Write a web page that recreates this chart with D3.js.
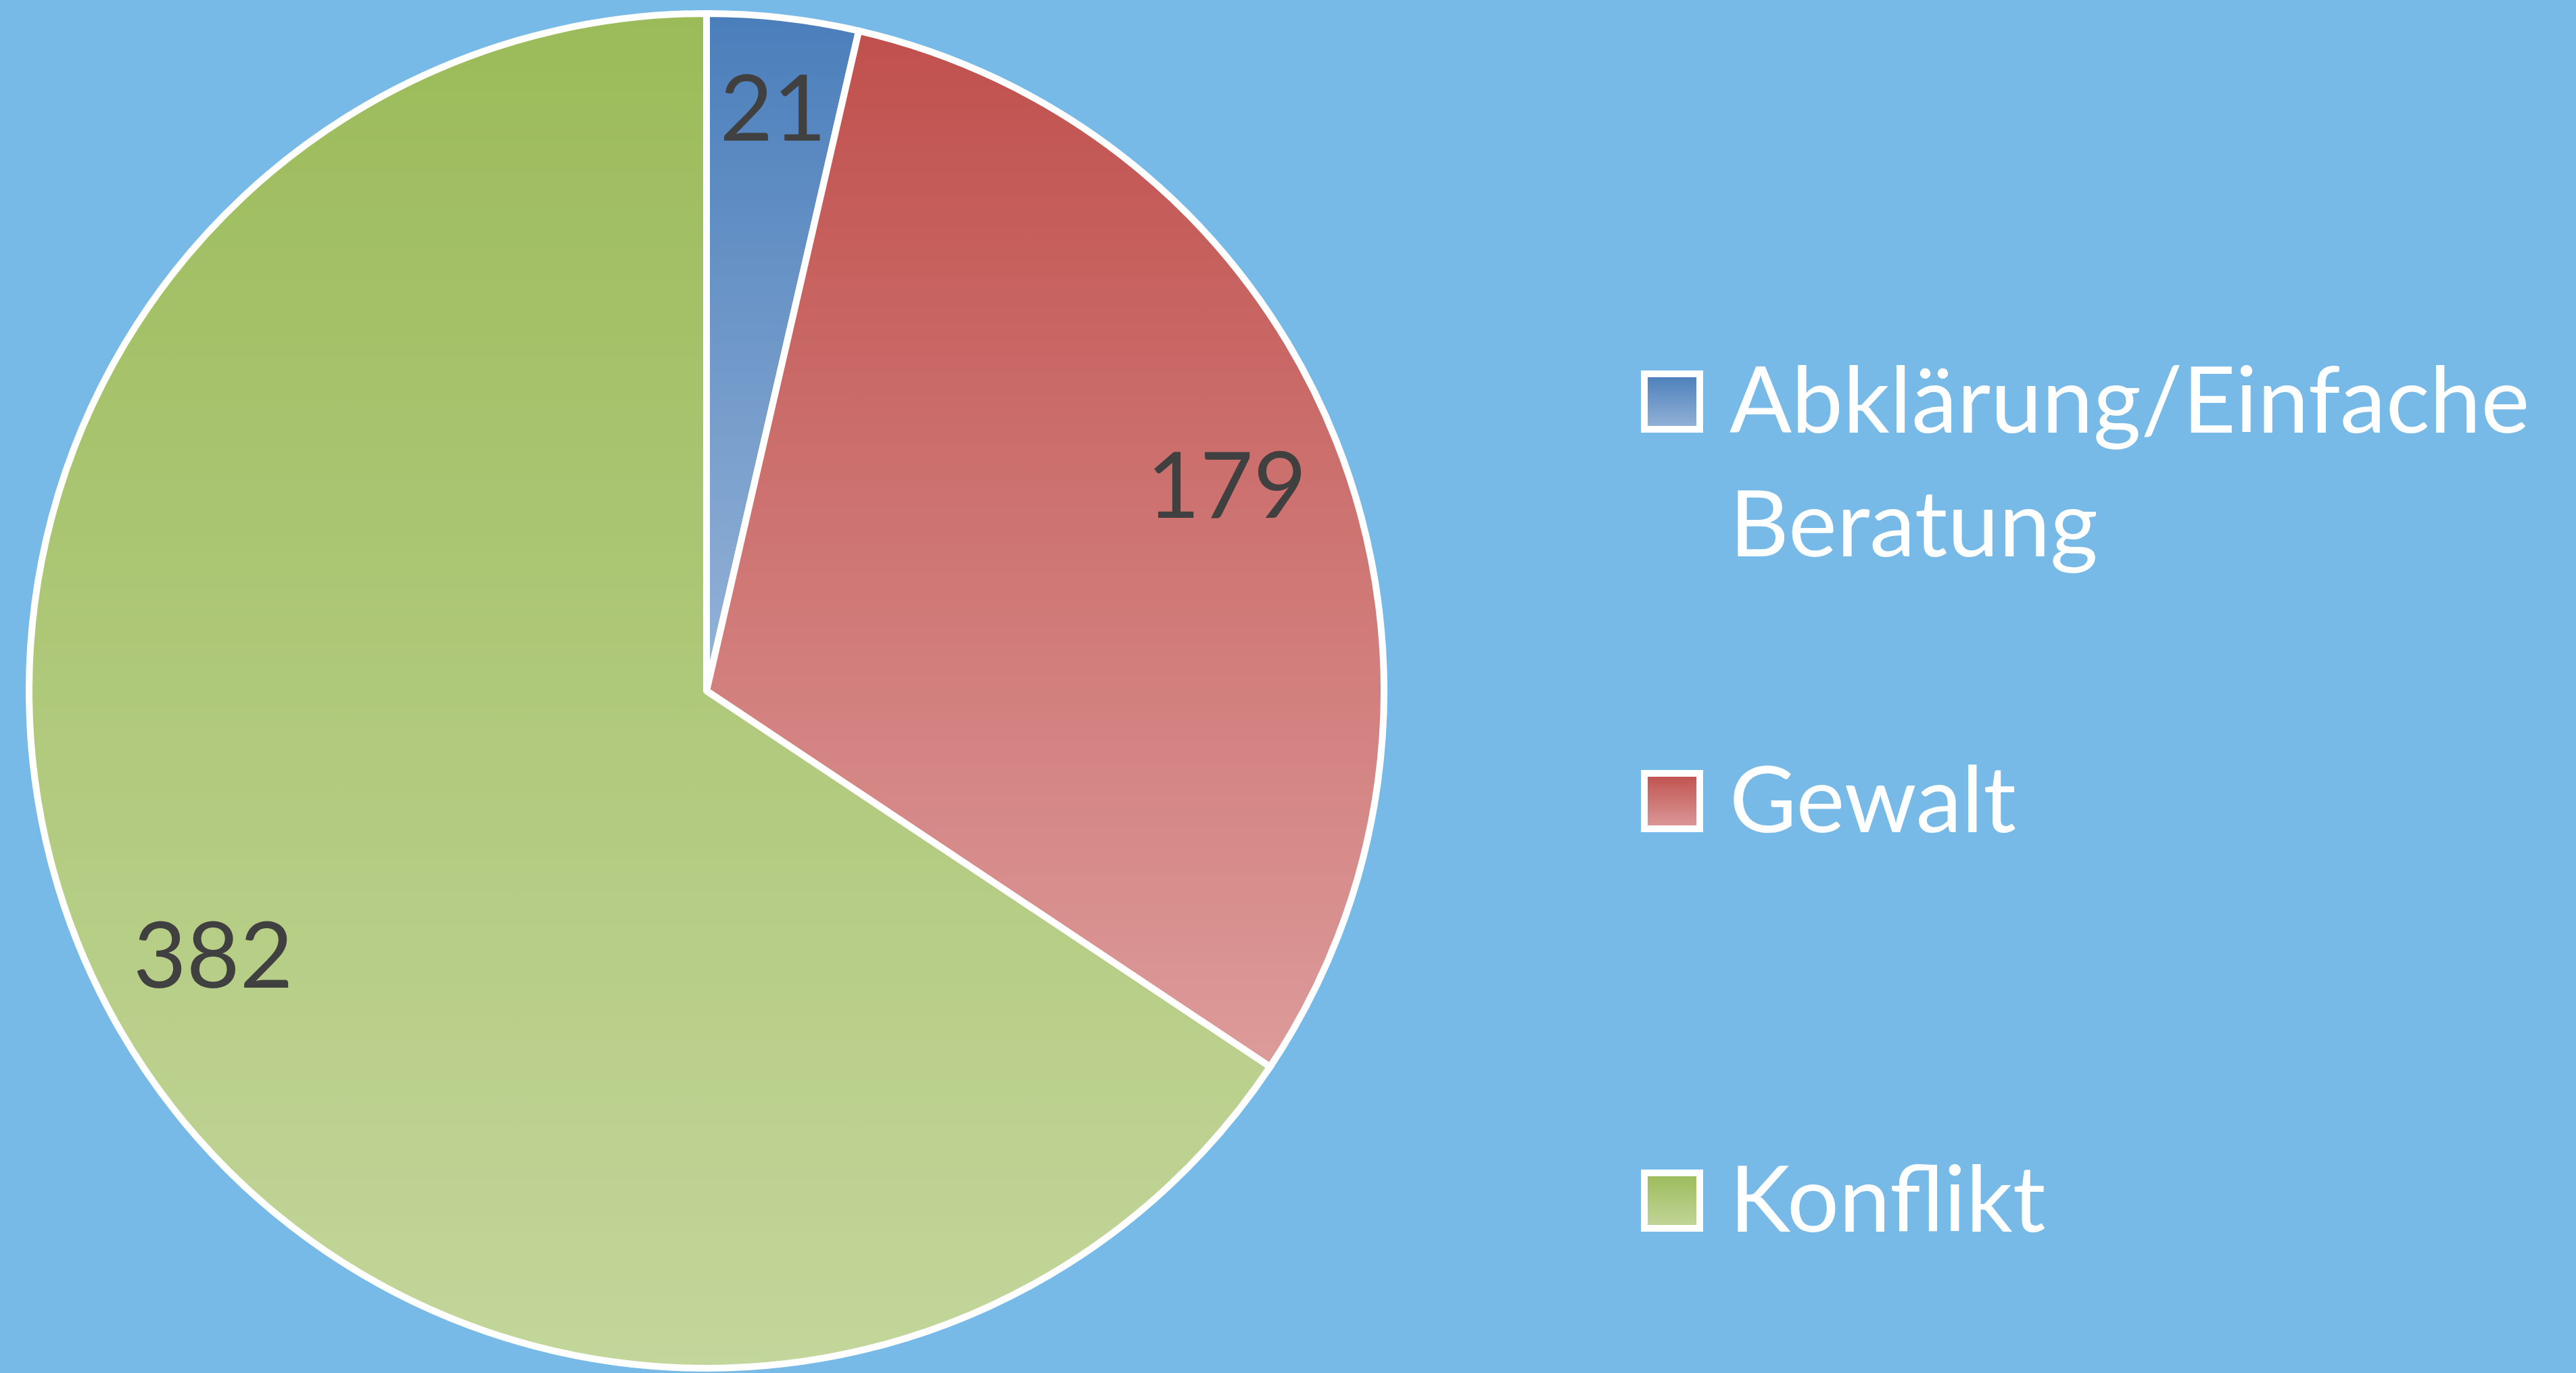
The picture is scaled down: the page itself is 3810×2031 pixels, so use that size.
<!DOCTYPE html>
<html>
<head>
<meta charset="utf-8">
<script src="https://cdn.jsdelivr.net/npm/d3@7"></script>
<style>
  html, body { margin: 0; padding: 0; background: #77bae8; overflow: hidden; }
</style>
</head>
<body>
<div id="chart"></div>
<script>
// Data
const categories = ["Abklärung/Einfache Beratung", "Gewalt", "Konflikt"];
const values = [21, 179, 382];
// gradient stops per slice (top colour, bottom colour)
const topColors = ["#4a7ebb", "#c0504d", "#9bbb59"];
const bottomColors = ["#95b3d7", "#dc9b9a", "#c3d69b"];

const width = 3810, height = 2031;
const cx = 1045, cy = 1022, radius = 1002;

const svg = d3.select("#chart")
    .append("svg")
    .attr("width", width)
    .attr("height", height);

svg.append("rect")
    .attr("width", width)
    .attr("height", height)
    .attr("fill", "#77bae8");

// one vertical gradient per category
const defs = svg.append("defs");
categories.forEach((c, i) => {
    const g = defs.append("linearGradient")
        .attr("id", "grad" + i)
        .attr("x1", 0).attr("y1", 0)
        .attr("x2", 0).attr("y2", 1);
    g.append("stop").attr("offset", "0%").attr("stop-color", topColors[i]);
    g.append("stop").attr("offset", "100%").attr("stop-color", bottomColors[i]);
});

const pie = d3.pie().sort(null).value(d => d);
const arcs = pie(values);

const arc = d3.arc().innerRadius(0).outerRadius(radius);

const g = svg.append("g")
    .attr("transform", `translate(${cx},${cy})`);

g.selectAll("path")
    .data(arcs)
    .enter()
    .append("path")
    .attr("d", arc)
    .attr("fill", (d, i) => `url(#grad${i})`)
    .attr("stroke", "#fff")
    .attr("stroke-width", 10)
    .attr("stroke-linejoin", "round");

// data labels, narrow slices pushed further out
const labelR = d => (d.endAngle - d.startAngle < 0.3 ? 0.867 : 0.826) * radius;
g.selectAll("text.label")
    .data(arcs)
    .enter()
    .append("text")
    .attr("class", "label")
    .attr("x", d => Math.sin((d.startAngle + d.endAngle) / 2) * labelR(d))
    .attr("y", d => -Math.cos((d.startAngle + d.endAngle) / 2) * labelR(d))
    .attr("dy", "0.36em")
    .attr("text-anchor", "middle")
    .style("font-family", "Lato, 'Open Sans', sans-serif")
    .style("font-size", "136px")
    .attr("fill", "#404040")
    .text(d => d.data);

// legend
const legend = svg.append("g")
    .attr("transform", "translate(2473,594)");

const item = legend.selectAll("g")
    .data(categories)
    .enter()
    .append("g")
    .attr("transform", (d, i) => `translate(0, ${i * 591})`);

item.append("rect")
    .attr("x", -41).attr("y", -41)
    .attr("width", 82).attr("height", 82)
    .attr("fill", (d, i) => `url(#grad${i})`)
    .attr("stroke", "#fff")
    .attr("stroke-width", 10);

item.append("text")
    .attr("x", 85)
    .attr("y", 46)
    .style("font-family", "Lato, 'Open Sans', sans-serif")
    .style("font-size", "136px")
    .attr("fill", "#fff")
    .selectAll("tspan")
    .data(d => d.split(" "))
    .enter()
    .append("tspan")
    .attr("x", 85)
    .attr("dy", (d, i) => i === 0 ? 0 : 183)
    .text(d => d);
</script>
</body>
</html>
